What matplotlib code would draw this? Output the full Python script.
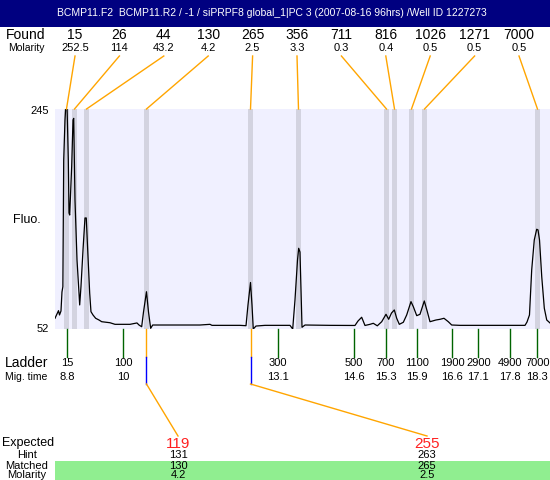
import numpy as np
import matplotlib
matplotlib.use("Agg")
import matplotlib.pyplot as plt
from matplotlib.lines import Line2D
from matplotlib.patches import Rectangle
import matplotlib.transforms as mtransforms

plt.rcParams['font.family'] = ['Liberation Sans', 'DejaVu Sans']

title = "BCMP11.F2  BCMP11.R2 / -1 / siPRPF8 global_1|PC 3 (2007-08-16 96hrs) /Well ID 1227273"

# electropherogram trace: migration time (s) vs fluorescence
trace_time = [8.559, 8.630, 8.650, 8.680, 8.700, 8.718, 8.735, 8.761, 8.781, 8.801,
              8.828, 8.842, 8.856, 8.896, 8.923, 8.937, 8.963, 9.004, 9.044, 9.058,
              9.084, 9.125, 9.165, 9.191, 9.220, 9.260, 9.286, 9.327, 9.381, 9.448,
              9.503, 9.670, 9.772, 10.075, 10.216, 10.257, 10.311, 10.348, 10.408, 10.449,
              10.493, 10.534, 11.085, 11.490, 11.692, 11.732, 12.298, 12.420, 12.460, 12.511,
              12.541, 12.567, 12.622, 12.804, 13.309, 13.364, 13.410, 13.461, 13.485, 13.511,
              13.532, 13.552, 13.613, 14.118, 14.623, 14.684, 14.758, 14.825, 14.926, 14.993,
              15.074, 15.163, 15.250, 15.304, 15.361, 15.418, 15.466, 15.519, 15.600, 15.668,
              15.755, 15.802, 15.871, 15.937, 16.024, 16.085, 16.139, 16.260, 16.341, 16.422,
              16.509, 16.578, 16.745, 17.352, 18.060, 18.100, 18.150, 18.195, 18.247, 18.296,
              18.323, 18.353, 18.398, 18.450, 18.499, 18.565]
trace_fluo = [61.4, 68.1, 64.3, 67.8, 84.5, 89.1, 200.3, 235.4, 250.0, 250.0,
              200.3, 153.8, 152.0, 194.4, 235.4, 236.8, 165.2, 112.5, 83.6, 73.1,
              89.1, 121.3, 149.4, 149.4, 121.3, 83.6, 67.2, 64.3, 61.4, 59.9,
              58.4, 57.5, 56.1, 56.1, 57.3, 55.5, 54.0, 66.9, 84.7, 66.9,
              52.6, 55.5, 55.5, 55.5, 56.1, 55.2, 55.2, 54.9, 73.1, 92.8,
              73.1, 52.0, 54.6, 55.2, 55.2, 52.0, 77.4, 112.5, 122.8, 119.5,
              86.2, 53.5, 55.5, 55.2, 55.1, 59.0, 62.3, 55.1, 56.1, 57.0,
              54.8, 58.4, 64.9, 60.5, 66.0, 68.7, 61.4, 56.1, 57.9, 64.3,
              76.0, 71.6, 63.7, 64.9, 76.6, 67.2, 58.4, 59.9, 60.5, 61.4,
              58.4, 55.5, 55.2, 55.2, 55.2, 58.1, 64.3, 103.8, 130.1, 139.5,
              138.9, 130.1, 97.9, 70.2, 59.9, 57.3]

# found peaks
peak_time = [8.791, 8.953, 9.196, 10.408, 12.511, 13.481, 15.260, 15.422, 15.765, 16.028, 18.312]
peak_size = ["15", "26", "44", "130", "265", "356", "711", "816", "1026", "1271", "7000"]
peak_molarity = ["252.5", "114", "43.2", "4.2", "2.5", "3.3", "0.3", "0.4", "0.5", "0.5", "0.5"]

# ladder
ladder_time = [8.807, 9.940, 13.057, 14.603, 15.250, 15.876, 16.590, 17.116, 17.756, 18.308]
ladder_size = ["15", "100", "300", "500", "700", "1100", "1900", "2900", "4900", "7000"]
ladder_mig = ["8.8", "10", "13.1", "14.6", "15.3", "15.9", "16.6", "17.1", "17.8", "18.3"]

# expected fragments and their matches
expected = ["119", "255"]
hint = ["131", "263"]
matched = ["130", "265"]
matched_molarity = ["4.2", "2.5"]
matched_time = [10.408, 12.511]

fluo_min, fluo_max = 52, 245
t_min, t_max = 8.559, 18.565

W, H = 550, 480
fig = plt.figure(figsize=(5.5, 4.8), dpi=100)
fig.patch.set_facecolor('white')

def fx(x):
    return x / W

def fy(y):
    return 1 - y / H

orange = '#FFA500'
band = '#D3D3E0'

# title bar
fig.add_artist(Rectangle((0, fy(27)), 1, 27 / H, transform=fig.transFigure,
                         facecolor='#000080', edgecolor='none'))
fig.text(fx(272), fy(13.5), title, color='white', fontsize=7.5, ha='center', va='center')

ax = fig.add_axes([fx(55), fy(329), 495 / W, 220 / H])
ax.set_facecolor('#F0F0FF')
for s in ax.spines.values():
    s.set_visible(False)
ax.set_xticks([])
ax.set_yticks([])
ax.set_xlim(t_min, t_max)
ax.set_ylim(fluo_min, fluo_max)

for t in peak_time:
    ax.axvspan(t - 0.05, t + 0.05, color=band, lw=0)
ax.plot(trace_time, trace_fluo, color='black', lw=0.9)

def tx(t):
    return fig.transFigure.inverted().transform(ax.transData.transform((t, fluo_min)))[0]

blend = mtransforms.blended_transform_factory(ax.transData, fig.transFigure)

# axis labels
fig.text(fx(49), fy(110.5), str(fluo_max), fontsize=8, ha='right', va='center')
fig.text(fx(49), fy(329.5), str(fluo_min), fontsize=8, ha='right', va='center')
fig.text(fx(27), fy(220), "Fluo.", fontsize=9, ha='center', va='center')

# found / molarity row
fig.text(fx(26), fy(35), "Found", fontsize=10, ha='center', va='center')
fig.text(fx(26), fy(48), "Molarity", fontsize=7.5, ha='center', va='center')
for i, t in enumerate(peak_time):
    lx = 75 + 44.4 * i
    fig.text(fx(lx), fy(35), peak_size[i], fontsize=10, ha='center', va='center')
    fig.text(fx(lx), fy(48), peak_molarity[i], fontsize=8, ha='center', va='center')
    fig.add_artist(Line2D([fx(lx), tx(t)], [fy(56), fy(109)], transform=fig.transFigure,
                          color=orange, lw=1))

# ladder
fig.text(fx(27), fy(363), "Ladder", fontsize=10, ha='center', va='center')
fig.text(fx(26), fy(377), "Mig. time", fontsize=7.5, ha='center', va='center')
for t, s, m in zip(ladder_time, ladder_size, ladder_mig):
    fig.add_artist(Line2D([t, t], [fy(329), fy(357)], transform=blend, color='#006400', lw=1))
    fig.text(t, fy(363), s, transform=blend, fontsize=8, ha='center', va='center')
    fig.text(t, fy(377), m, transform=blend, fontsize=8, ha='center', va='center')

# expected table
fig.add_artist(Rectangle((fx(55), fy(480)), 495 / W, 19 / H, transform=fig.transFigure,
                         facecolor='#90EE90', edgecolor='none'))
fig.text(fx(28), fy(443), "Expected", fontsize=9, ha='center', va='center')
fig.text(fx(27), fy(455), "Hint", fontsize=8, ha='center', va='center')
fig.text(fx(27), fy(466), "Matched", fontsize=8, ha='center', va='center')
fig.text(fx(27), fy(475.5), "Molarity", fontsize=8, ha='center', va='center')
exp_x = [178, 427]
for i, t in enumerate(matched_time):
    x = tx(t)
    fig.add_artist(Line2D([x, x], [fy(329), fy(357)], transform=fig.transFigure, color=orange, lw=1))
    fig.add_artist(Line2D([x, x], [fy(357), fy(384)], transform=fig.transFigure, color='blue', lw=1))
    fig.add_artist(Line2D([x, fx(exp_x[i])], [fy(384), fy(436)], transform=fig.transFigure,
                          color=orange, lw=1))
    fig.text(fx(exp_x[i]), fy(444), expected[i], color='#FF2020', fontsize=11, ha='center', va='center')
    fig.text(fx(exp_x[i]), fy(455), hint[i], fontsize=8, ha='center', va='center')
    fig.text(fx(exp_x[i]), fy(466), matched[i], fontsize=8, ha='center', va='center')
    fig.text(fx(exp_x[i]), fy(475.5), matched_molarity[i], fontsize=8, ha='center', va='center')

fig.savefig("out.png", dpi=100)
